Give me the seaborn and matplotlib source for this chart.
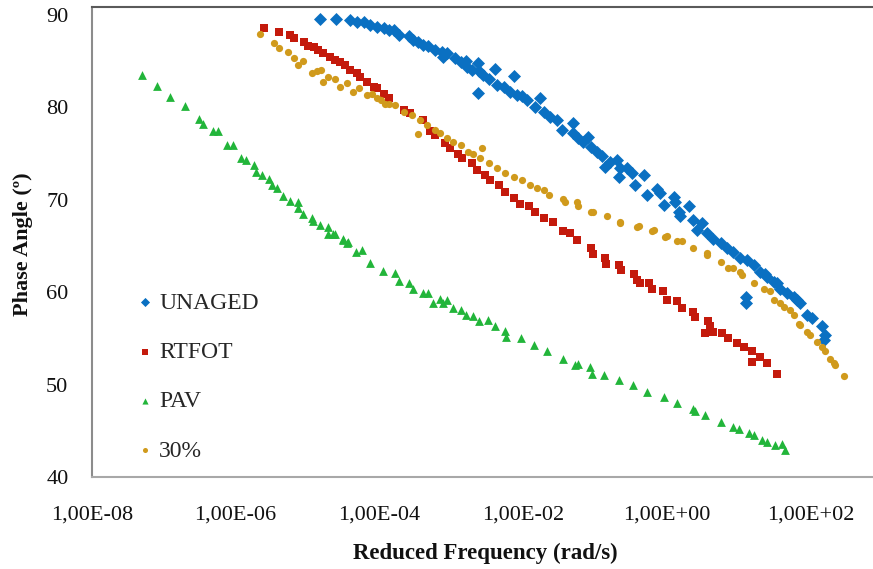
import numpy as np
import pandas as pd
import matplotlib
matplotlib.use("Agg")
import matplotlib.pyplot as plt
import seaborn as sns

# ---- data (log10 of reduced frequency in rad/s, phase angle in degrees) ----
unaged_logf = [-4.83, -4.61, -4.41, -4.31, -4.22, -4.13, -4.03, -3.94, -3.87, -3.80, -3.73, -3.59,
               -3.53, -3.46, -3.39, -3.32, -3.22, -3.13, -3.06, -3.11, -2.94, -2.87, -2.80, -2.78,
               -2.71, -2.62, -2.61, -2.55, -2.48, -2.39, -2.13, -2.63, -2.36, -2.27, -2.18, -2.09,
               -2.02, -1.95, -1.76, -1.83, -1.71, -1.62, -1.53, -1.46, -1.31, -1.30, -1.23, -1.16,
               -1.09, -1.06, -0.97, -0.90, -0.86, -0.79, -0.69, -0.65, -0.66, -0.55, -0.48, -0.44,
               -0.32, -0.28, -0.14, -0.09, -0.04, 0.10, 0.12, 0.17, 0.31, 0.19, 0.37, 0.49, 0.42,
               0.56, 0.65, 0.75, 0.84, 0.93, 1.02, 1.12, 1.21, 1.30, 1.37, 1.40, 1.49, 1.54, 1.58,
               1.68, 1.77, 1.81, 1.86, 1.95, 2.02, 2.16, 2.21, 2.19, 1.11, 1.11]
unaged_phase = [89.6, 89.6, 89.5, 89.3, 89.2, 88.9, 88.7, 88.6, 88.4, 88.4, 87.8, 87.7,
                87.3, 87.1, 86.8, 86.6, 86.2, 86.0, 85.9, 85.5, 85.3, 84.9, 85.0, 84.4,
                84.0, 84.8, 83.9, 83.5, 83.1, 84.2, 83.4, 81.6, 82.4, 82.2, 81.7, 81.3,
                81.2, 80.8, 81.0, 80.1, 79.5, 79.0, 78.6, 77.6, 78.3, 77.2, 76.7, 76.3,
                76.8, 75.7, 75.2, 74.7, 73.5, 74.1, 74.3, 73.4, 72.5, 73.4, 72.9, 71.6,
                72.7, 70.5, 71.2, 70.7, 69.4, 70.3, 69.8, 68.7, 69.3, 68.2, 67.8, 67.5, 66.7,
                66.4, 65.8, 65.3, 64.8, 64.4, 63.7, 63.5, 62.9, 62.2, 62.0, 61.7, 61.1, 61.0, 60.4,
                59.9, 59.5, 59.2, 58.8, 57.5, 57.2, 56.3, 55.4, 54.8, 59.5, 58.8]

rtfot_logf = [-5.60, -5.39, -5.25, -5.19, -5.05, -4.99, -4.91, -4.85, -4.78, -4.69, -4.62, -4.55,
              -4.48, -4.41, -4.31, -4.27, -4.17, -4.08, -4.03, -3.94, -3.87, -3.66, -3.57, -3.39,
              -3.29, -3.22, -3.08, -3.01, -2.90, -2.85, -2.71, -2.64, -2.53, -2.46, -2.34, -2.25,
              -2.13, -2.04, -1.92, -1.83, -1.71, -1.58, -1.44, -1.34, -1.25, -1.06, -1.03, -0.86,
              -0.84, -0.66, -0.64, -0.45, -0.41, -0.37, -0.25, -0.20, -0.05, 0.00, 0.14, 0.21,
              0.37, 0.40, 0.58, 0.61, 0.54, 0.65, 0.77, 0.86, 0.98, 1.07, 1.19, 1.19, 1.30, 1.40, 1.53]
rtfot_phase = [88.6, 88.2, 87.8, 87.5, 87.1, 86.7, 86.5, 86.2, 85.9, 85.5, 85.1, 84.9,
               84.6, 84.0, 83.7, 83.3, 82.8, 82.2, 82.1, 81.5, 81.0, 79.7, 79.4, 78.6,
               77.4, 77.0, 76.1, 75.6, 75.0, 74.5, 74.0, 73.2, 72.7, 72.1, 71.6, 70.9,
               70.2, 69.6, 69.3, 68.7, 68.0, 67.6, 66.6, 66.4, 65.7, 64.8, 64.1, 63.7,
               63.1, 62.9, 62.4, 62.0, 61.3, 61.0, 61.0, 60.3, 60.1, 59.2, 59.0, 58.3,
               57.9, 57.3, 56.9, 56.3, 55.6, 55.7, 55.6, 55.0, 54.5, 54.1, 53.6, 52.5, 53.0, 52.3, 51.2]

pav_logf = [-7.31, -7.10, -6.91, -6.70, -6.51, -6.45, -6.31, -6.24, -6.12, -6.04, -5.92, -5.86,
            -5.74, -5.72, -5.64, -5.53, -5.50, -5.43, -5.34, -5.24, -5.13, -5.13, -5.06, -4.94,
            -4.93, -4.83, -4.72, -4.71, -4.64, -4.62, -4.51, -4.51, -4.45, -4.43, -4.32, -4.24,
            -4.13, -3.95, -3.78, -3.73, -3.59, -3.53, -3.39, -3.32, -3.25, -3.15, -3.06, -3.12,
            -2.98, -2.87, -2.80, -2.69, -2.61, -2.49, -2.39, -2.25, -2.23, -2.03, -1.84, -1.67,
            -1.44, -1.27, -1.23, -1.07, -1.04, -0.87, -0.67, -0.47, -0.27, -0.04, 0.14, 0.37,
            0.40, 0.54, 0.75, 0.93, 1.00, 1.14, 1.21, 1.33, 1.40, 1.51, 1.61, 1.65]
pav_phase = [83.5, 82.35, 81.1, 80.15, 78.75, 78.2, 77.4, 77.4, 75.9, 75.9, 74.5, 74.3,
             73.8, 73.0, 72.7, 72.25, 71.6, 71.3, 70.4, 69.9, 69.8, 69.1, 68.5, 68.0,
             67.7, 67.3, 67.1, 66.3, 66.3, 66.3, 65.8, 65.6, 65.3, 65.4, 64.3, 64.6,
             63.2, 62.3, 62.1, 61.2, 61.0, 60.3, 59.9, 59.9, 58.8, 59.3, 59.2, 58.8,
             58.3, 58.1, 57.5, 57.4, 56.9, 57.0, 56.3, 55.8, 55.1, 55.0, 54.3, 53.6,
             52.8, 52.1, 52.2, 51.9, 51.2, 51.0, 50.5, 50.0, 49.2, 48.7, 48.0, 47.4,
             47.1, 46.7, 46.0, 45.4, 45.2, 44.8, 44.5, 44.0, 43.8, 43.5, 43.6, 42.9]

p30_logf = [-5.66, -5.46, -5.39, -5.27, -5.19, -5.13, -5.06, -4.94, -4.87, -4.81, -4.78, -4.71,
            -4.62, -4.55, -4.45, -4.36, -4.28, -4.17, -4.10, -4.03, -3.92, -3.97, -3.87, -3.78,
            -3.66, -3.55, -3.43, -3.46, -3.34, -3.22, -3.15, -3.06, -2.97, -2.87, -2.77, -2.69,
            -2.57, -2.60, -2.48, -2.36, -2.25, -2.13, -2.02, -1.90, -1.81, -1.71, -1.64, -1.44,
            -1.41, -1.25, -1.24, -1.06, -1.02, -0.83, -0.65, -0.65, -0.41, -0.39, -0.20, -0.18,
            -0.02, 0.00, 0.14, 0.21, 0.37, 0.56, 0.56, 0.75, 0.86, 0.93, 1.02, 1.05, 1.21,
            1.35, 1.44, 1.49, 1.58, 1.63, 1.72, 1.77, 1.84, 1.86, 1.95, 2.00, 2.09, 2.16,
            2.21, 2.28, 2.33, 2.35, 2.47]
p30_phase = [87.9, 87.0, 86.4, 86.0, 85.4, 84.6, 85.0, 83.7, 83.9, 84.0, 82.8, 83.3,
             83.1, 82.2, 82.6, 81.7, 82.1, 81.3, 81.5, 81.0, 80.4, 80.8, 80.4, 80.3,
             79.5, 79.2, 78.6, 77.1, 78.1, 77.6, 77.2, 76.7, 76.3, 75.9, 75.2, 75.0,
             75.6, 74.5, 74.0, 73.4, 72.9, 72.5, 72.1, 71.6, 71.3, 71.1, 70.5, 70.1,
             69.8, 69.8, 69.3, 68.7, 68.7, 68.2, 67.6, 67.5, 67.1, 67.2, 66.6, 66.7,
             66.0, 66.1, 65.5, 65.5, 64.8, 64.2, 64.0, 63.3, 62.6, 62.6, 62.2, 61.9, 61.0,
             60.4, 60.1, 59.2, 58.8, 58.4, 58.1, 57.5, 56.6, 56.5, 55.7, 55.4, 54.6, 54.1,
             53.6, 52.8, 52.3, 52.1, 50.9]

series_names = ["UNAGED", "RTFOT", "PAV", "30%"]
series_colors = ["#0A70C2", "#C41A0C", "#22B53A", "#D09A1C"]
series_markers = ["D", "s", "^", "o"]
series_sizes = [44, 36, 40, 27]

x_ticks = [1e-8, 1e-6, 1e-4, 1e-2, 1e0, 1e2]
x_tick_labels = ["1,00E-08", "1,00E-06", "1,00E-04", "1,00E-02", "1,00E+00", "1,00E+02"]
y_ticks = [40, 50, 60, 70, 80, 90]

# ---- build frames ----
frames = []
for name, lf, ph in zip(series_names,
                        [unaged_logf, rtfot_logf, pav_logf, p30_logf],
                        [unaged_phase, rtfot_phase, pav_phase, p30_phase]):
    frames.append(pd.DataFrame({"freq": 10.0 ** np.array(lf), "phase": ph, "series": name}))

sns.set_style("white")
plt.rcParams["font.family"] = ["Liberation Serif", "DejaVu Serif"]

fig = plt.figure(figsize=(8.73, 5.69), dpi=100)
# plot area extends beyond right edge of the (cropped) picture
ax = fig.add_axes([92 / 873, (569 - 477) / 569, (954 - 92) / 873, (477 - 7) / 569])

for df, c, m, s in zip(frames, series_colors, series_markers, series_sizes):
    sns.scatterplot(data=df, x="freq", y="phase", ax=ax, color=c, marker=m, s=s,
                    linewidth=0, label=df["series"].iloc[0], zorder=3)

ax.set_xscale("log")
ax.set_xlim(1e-8, 1e4)
ax.set_ylim(40, 90.87)
ax.set_xticks(x_ticks)
ax.set_xticklabels(x_tick_labels)
ax.minorticks_off()
ax.set_yticks(y_ticks)
ax.tick_params(axis="both", length=0, labelsize=16, colors="#111111")
ax.tick_params(axis="x", pad=20.5)
ax.tick_params(axis="y", pad=17)

for side, col in [("top", "#5a5a5a"), ("left", "#8c8c8c"), ("bottom", "#a8a8a8"), ("right", "#8c8c8c")]:
    ax.spines[side].set_color(col)
    ax.spines[side].set_linewidth(1.5)

ax.set_xlabel("Reduced Frequency (rad/s)", fontsize=16.5, fontweight="bold", color="#111111")
ax.set_ylabel("Phase Angle (º)", fontsize=16, fontweight="bold", color="#111111")
ax.xaxis.set_label_coords((485 - 92) / 862, (477 - 543) / 470)
ax.yaxis.set_label_coords((33 - 92) / 862, (477 - 244) / 470)

leg = ax.legend(loc="upper left", bbox_to_anchor=((138 - 92) / 862, (477 - 292) / 470),
                frameon=False, fontsize=17, markerscale=0.7, handlelength=0.6,
                handletextpad=0.3, labelspacing=1.18, borderpad=0, borderaxespad=0)

fig.savefig("out.png", dpi=100)
